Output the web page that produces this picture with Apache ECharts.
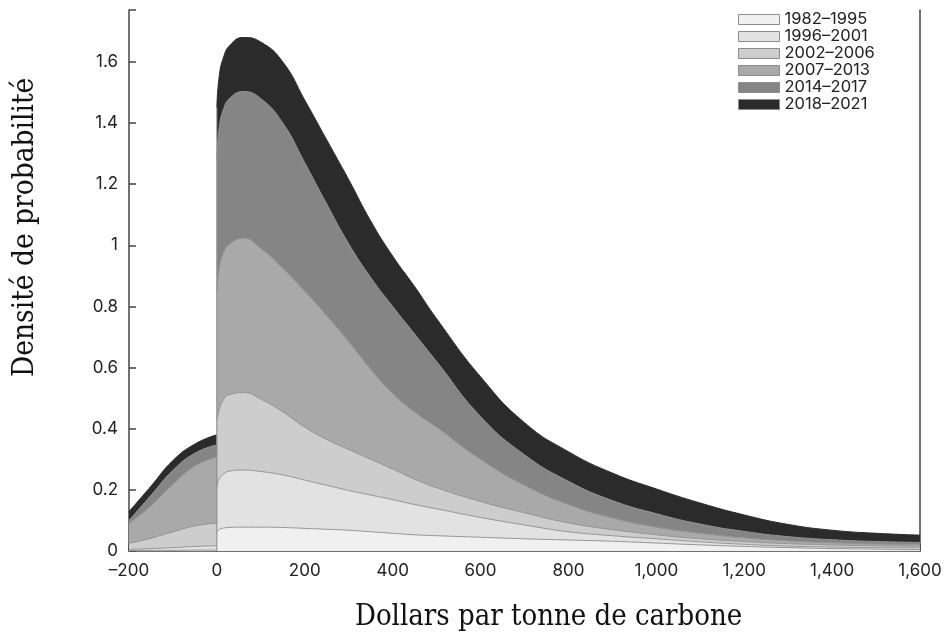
<!DOCTYPE html>
<html>
<head>
<meta charset="utf-8">
<title>Densité de probabilité</title>
<script src="https://cdn.jsdelivr.net/npm/echarts@6/dist/echarts.min.js"></script>
<style>
    html, body { margin: 0; padding: 0; background: #fff; }
    #chart { width: 948px; height: 633px; }
</style>
</head>
<body>
<div id="chart"></div>
<script>
// x positions (dollars per tonne); the null entry breaks the curves at the jump at 0
var xValues = [-200, -150, -100, -50, -0.5, -0.25, 0, 5, 15, 30, 60, 100, 150, 200, 250, 300, 350, 400, 450, 500,
    600, 700, 800, 900, 1000, 1100, 1200, 1300, 1400, 1500, 1600];

// per period contribution to the stacked density
var periods = ['1982–1995', '1996–2001', '2002–2006', '2007–2013', '2014–2017', '2018–2021'];
var p1982 = [0.001, 0.002, 0.002, 0.003, 0.003, null, 0.06, 0.07, 0.075, 0.077, 0.078, 0.078, 0.077, 0.074, 0.071, 0.068, 0.063, 0.058, 0.053, 0.05,
    0.045, 0.04, 0.036, 0.032, 0.026, 0.02, 0.015, 0.011, 0.008, 0.006, 0.005];
var p1996 = [0.004, 0.006, 0.009, 0.012, 0.014, null, 0.15, 0.165, 0.177, 0.185, 0.187, 0.182, 0.172, 0.158, 0.144, 0.13, 0.12, 0.11, 0.099, 0.088,
    0.065, 0.045, 0.027, 0.018, 0.014, 0.01, 0.007, 0.005, 0.005, 0.005, 0.005];
var p2002 = [0.020, 0.034, 0.052, 0.067, 0.074, null, 0.22, 0.225, 0.243, 0.25, 0.253, 0.237, 0.206, 0.173, 0.15, 0.134, 0.117, 0.10, 0.083, 0.069,
    0.052, 0.04, 0.029, 0.02, 0.013, 0.01, 0.009, 0.008, 0.007, 0.006, 0.005];
var p2007 = [0.065, 0.106, 0.155, 0.196, 0.216, null, 0.42, 0.46, 0.48, 0.493, 0.505, 0.493, 0.47, 0.445, 0.405, 0.353, 0.295, 0.247, 0.22, 0.198,
    0.138, 0.09, 0.06, 0.038, 0.025, 0.018, 0.012, 0.009, 0.007, 0.006, 0.006];
var p2014 = [0.010, 0.034, 0.046, 0.042, 0.040, null, 0.43, 0.46, 0.47, 0.477, 0.48, 0.49, 0.475, 0.42, 0.365, 0.32, 0.30, 0.285, 0.255, 0.215,
    0.14, 0.10, 0.076, 0.057, 0.044, 0.03, 0.021, 0.014, 0.01, 0.008, 0.007];
var p2018 = [0.029, 0.030, 0.032, 0.030, 0.033, null, 0.17, 0.17, 0.17, 0.173, 0.177, 0.185, 0.20, 0.205, 0.21, 0.21, 0.185, 0.165, 0.155, 0.14,
    0.13, 0.105, 0.097, 0.09, 0.081, 0.069, 0.054, 0.04, 0.031, 0.027, 0.024];

var layers = [p1982, p1996, p2002, p2007, p2014, p2018];
var fills = ['#f0f0f0', '#e2e2e2', '#cdcdcd', '#a9a9a9', '#858585', '#2b2b2b'];

var chart = echarts.init(document.getElementById('chart'));

// running totals: layer i is drawn from 0 up to the sum of layers 0..i,
// tallest first so that lower periods sit on top of it
var running = xValues.map(function () { return 0; });
var tops = layers.map(function (values) {
    running = running.map(function (s, j) {
        return values[j] === null ? null : s + values[j];
    });
    return running.slice();
});

var series = [];
for (var i = layers.length - 1; i >= 0; i--) {
    series.push({
        name: periods[i],
        type: 'line',
        smooth: 0.5,
        showSymbol: false,
        symbol: 'none',
        connectNulls: false,
        data: tops[i].map(function (v, j) {
            return [xValues[j], v === null ? '-' : +v.toFixed(4)];
        }),
        itemStyle: { color: fills[i] },
        lineStyle: { color: i === 5 ? '#2b2b2b' : '#959595', width: 1 },
        areaStyle: { color: fills[i], opacity: 1 },
        z: 2
    });
}

// boundary at x = 0, from the axis to the top of the stack
var zeroIdx = xValues.indexOf(0);
series.push({
    type: 'line',
    data: [[0, 0], [0, tops[5][zeroIdx]]],
    showSymbol: false,
    symbol: 'none',
    lineStyle: { color: '#8a8a8a', width: 1 },
    z: 3,
    silent: true
});

var titleFont = '"DejaVu Serif Condensed", "DejaVu Serif", serif';

chart.setOption({
    animation: false,
    backgroundColor: '#fff',

    textStyle: {
        fontFamily: 'Inter, Roboto, sans-serif'
    },

    grid: {
        left: 129,
        right: 28,
        top: 10,
        bottom: 82
    },

    legend: {
        data: periods,
        orient: 'vertical',
        left: 733,
        top: 6,
        icon: 'rect',
        itemWidth: 41,
        itemHeight: 10,
        itemGap: 0,
        itemStyle: {
            borderColor: '#8c8c8c',
            borderWidth: 1
        },
        textStyle: {
            fontSize: 16.5,
            color: '#222',
            fontFamily: 'Inter, sans-serif'
        }
    },

    xAxis: {
        type: 'value',
        min: -200,
        max: 1600,
        interval: 200,
        axisLine: { lineStyle: { color: '#444', width: 1.5 } },
        axisTick: { inside: true, length: 7, lineStyle: { color: '#444', width: 1.5 } },
        axisLabel: {
            color: '#222',
            fontSize: 17,
            margin: 11,
            formatter: function (v) {
                return (v < 0 ? '\u2013' : '') + Math.abs(v).toLocaleString('en-US');
            }
        },
        splitLine: { show: false }
    },

    yAxis: [{
        type: 'value',
        min: 0,
        max: 1.77,
        interval: 0.2,
        axisLine: { show: true, onZero: false, lineStyle: { color: '#444', width: 1.5 } },
        axisTick: { show: true, inside: true, length: 7, lineStyle: { color: '#444', width: 1.5 } },
        axisLabel: {
            color: '#222',
            fontSize: 17,
            margin: 11,
            formatter: function (v) {
                var r = Math.round(v * 5) / 5;
                if (Math.abs(v - r) > 1e-6 || v > 1.61) return '';
                return String(+r.toFixed(1));
            }
        },
        splitLine: { show: false }
    }, {
        type: 'value',
        position: 'right',
        min: 0,
        max: 1.77,
        interval: 0.2,
        axisLine: { show: true, onZero: false, lineStyle: { color: '#444', width: 1.5 } },
        axisTick: { show: false },
        axisLabel: { show: false },
        splitLine: { show: false }
    }],

    graphic: [{
        type: 'text',
        left: 355,
        top: 603,
        style: {
            text: 'Dollars par tonne de carbone',
            font: '29px ' + titleFont,
            fill: '#111'
        }
    }, {
        type: 'text',
        x: 10,
        y: 377,
        rotation: Math.PI / 2,
        style: {
            text: 'Densité de probabilité',
            font: '29.5px ' + titleFont,
            fill: '#111',
            verticalAlign: 'top'
        }
    }],

    series: series
});
</script>
</body>
</html>
